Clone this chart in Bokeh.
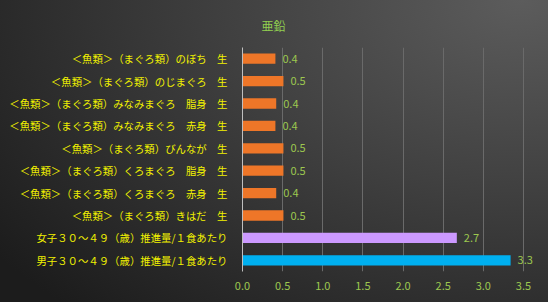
from bokeh.plotting import figure
from bokeh.models import ColumnDataSource, FactorRange, Range1d, FixedTicker, CustomJSTickFormatter
from bokeh.embed import file_html
from bokeh.resources import INLINE
from bokeh.core.properties import value

title_text = "亜鉛"
categories = [
    "＜魚類＞（まぐろ類）のぼち　生",
    "＜魚類＞（まぐろ類）のじまぐろ　生",
    "＜魚類＞（まぐろ類）みなみまぐろ　脂身　生",
    "＜魚類＞（まぐろ類）みなみまぐろ　赤身　生",
    "＜魚類＞（まぐろ類）びんなが　生",
    "＜魚類＞（まぐろ類）くろまぐろ　脂身　生",
    "＜魚類＞（まぐろ類）くろまぐろ　赤身　生",
    "＜魚類＞（まぐろ類）きはだ　生",
    "女子３０～４９（歳）推進量/１食あたり",
    "男子３０～４９（歳）推進量/１食あたり",
]
values = [0.41, 0.51, 0.42, 0.41, 0.51, 0.51, 0.42, 0.51, 2.67, 3.34]
bar_colors = ["#EE7628"] * 8 + ["#CC99FF", "#00B0F0"]
value_labels = ["%.1f" % v for v in values]
x_ticks = [0.0, 0.5, 1.0, 1.5, 2.0, 2.5, 3.0, 3.5]

FONT = "Noto Sans CJK JP"

src = ColumnDataSource(dict(cat=categories, val=values, color=bar_colors, lab=value_labels))

p = figure(
    width=548, height=302,
    y_range=FactorRange(*list(reversed(categories)), range_padding=0),
    x_range=Range1d(0, 3.65),
    output_backend="svg", toolbar_location=None,
    min_border_left=242, min_border_right=13, min_border_top=46, min_border_bottom=31,
)
p.styles = {"background": "radial-gradient(ellipse 120% 140% at 95% 0%, #5c5c5c 0%, #404040 45%, #1c1c1c 100%)"}
p.border_fill_alpha = 0
p.background_fill_alpha = 0
p.outline_line_color = None

p.hbar(y="cat", right="val", left=0, height=0.46, source=src,
       fill_color="color", line_color=None)
p.text(x="val", y="cat", text="lab", source=src, x_offset=7,
       text_baseline="middle", text_align="left", text_font_size="11px",
       text_font=value(FONT), text_color="#9DC84F")

p.title.text = title_text
p.title.text_font = FONT
p.title.text_font_size = "12px"
p.title.text_font_style = "normal"
p.title.text_color = "#92D050"
p.title.align = "left"
p.title.offset = 19
p.title.standoff = 28

p.xaxis.ticker = FixedTicker(ticks=x_ticks)
p.xaxis.formatter = CustomJSTickFormatter(code="return tick.toFixed(1);")
p.xaxis.axis_line_color = None
p.xaxis.major_tick_line_color = None
p.xaxis.minor_tick_line_color = None
p.xaxis.major_label_text_color = "#9DC84F"
p.xaxis.major_label_text_font = FONT
p.xaxis.major_label_text_font_size = "11px"
p.xaxis.major_label_standoff = 4

p.yaxis.axis_line_color = "#BFBFBF"
p.yaxis.axis_line_width = 1
p.yaxis.major_tick_line_color = None
p.yaxis.minor_tick_line_color = None
p.yaxis.major_label_text_color = "#F2F200"
p.yaxis.major_label_text_font = FONT
p.yaxis.major_label_text_font_size = "10.4px"
p.yaxis.major_label_standoff = 9

p.xgrid.grid_line_color = "#6A6A6A"
p.xgrid.grid_line_width = 1
p.ygrid.grid_line_color = None

open("out.html", "w").write(file_html(p, INLINE))
